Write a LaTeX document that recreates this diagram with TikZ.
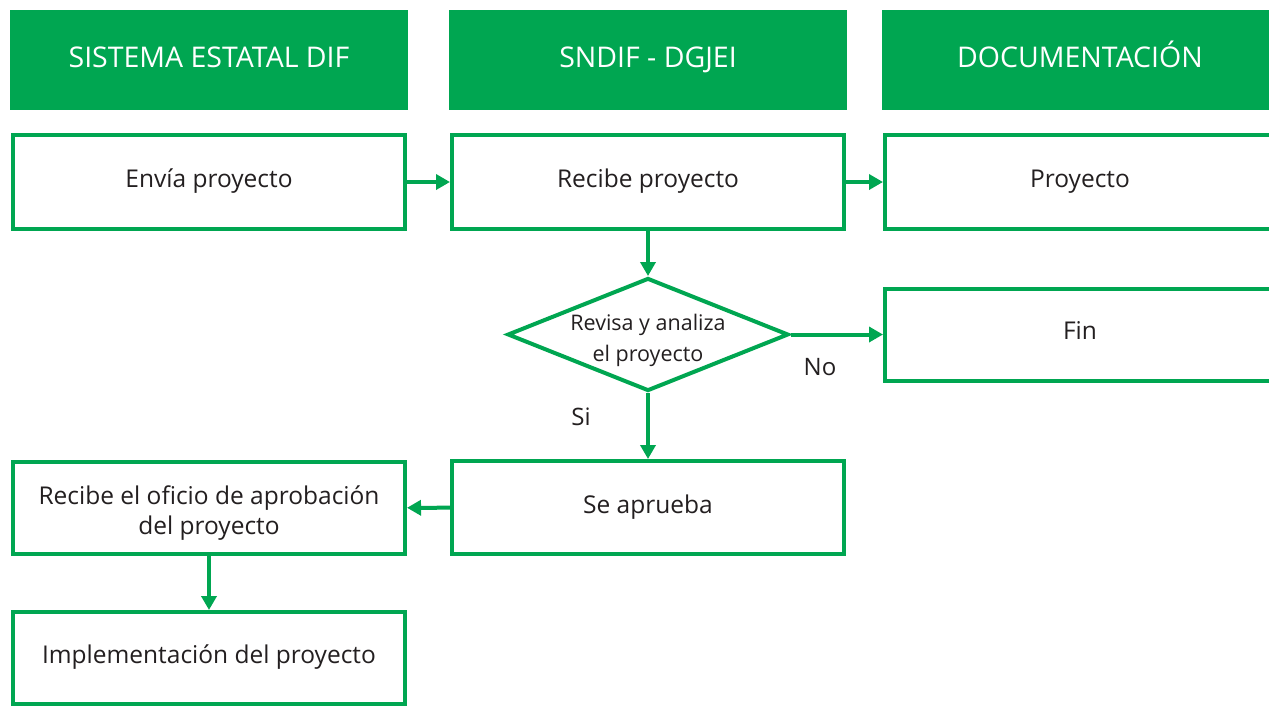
\documentclass[tikz,border=0pt]{standalone}
\usepackage{fontspec}
\setmainfont{Open Sans}
\usetikzlibrary{shapes.geometric,arrows.meta}
\definecolor{dgreen}{HTML}{00A651}
\definecolor{dtext}{HTML}{231F20}
\tikzset{
  header/.style={fill=dgreen, draw=none, text=white, minimum width=398pt, minimum height=100pt, inner sep=0pt, text height=20pt, text depth=6pt, font=\fontsize{28.5}{32}\selectfont},
  stepbox/.style={draw=dgreen, line width=4pt, fill=white, text=dtext, minimum width=392pt, minimum height=94pt, inner sep=0pt, align=center, font=\fontsize{24.5}{30}\selectfont},
  decision/.style={diamond, draw=dgreen, line width=4pt, fill=white, minimum width=281pt, minimum height=113pt, inner sep=0pt},
  dtxt/.style={text=dtext, inner sep=0pt, align=center, font=\fontsize{21.5}{31}\selectfont},
  lbl/.style={text=dtext, inner sep=0pt, font=\fontsize{24}{28}\selectfont},
  flow/.style={draw=dgreen, line width=4pt, -{Triangle[length=14pt,width=15pt]}},
}
\newcommand{\up}[1]{\raisebox{7pt}{#1}}
\begin{document}
\begin{tikzpicture}[x=1pt,y=-1pt]
\useasboundingbox (0,0) rectangle (1269,705);
\clip (0,0) rectangle (1269,705);
\fill[white] (0,0) rectangle (1269,705);
\node[header] (h1) at (209,60) {SISTEMA ESTATAL DIF};
\node[header] (h2) at (648,60) {SNDIF - DGJEI};
\node[header, minimum width=396pt] (h3) at (1080,60) {DOCUMENTACIÓN};
\node[stepbox] (envia) at (209,182) {\up{Envía proyecto}};
\node[stepbox] (recibe) at (648,182) {\up{Recibe proyecto}};
\node[stepbox, minimum width=390pt] (proy) at (1080,182) {\up{Proyecto}};
\node[decision] (rev) at (648,334.5) {};
\node[dtxt] (revt) at (648,340) {Revisa y analiza\\el proyecto};
\node[stepbox, minimum width=390pt, minimum height=92pt] (fin) at (1080,334.5) {\up{Fin}};
\node[stepbox, minimum height=93pt] (aprueba) at (648,507.5) {\up{Se aprueba}};
\node[stepbox, minimum height=92pt] (oficio) at (209,508) {\raisebox{-5pt}[\height][\depth]{\begin{tabular}{@{}c@{}}Recibe el oficio de aprobación\\[0pt]del proyecto\end{tabular}}};
\node[stepbox, minimum height=92pt] (impl) at (209,658) {\up{Implementación del proyecto}};
\node[lbl] (no) at (820,367) {No};
\node[lbl] (si) at (581,417) {Si};
\draw[flow] (envia) -- (recibe);
\draw[flow] (recibe) -- (proy);
\draw[flow] (recibe) -- (rev);
\draw[flow] (rev.east) -- (fin.west |- rev.east);
\draw[flow] (rev) -- (aprueba);
\draw[flow] (aprueba) -- (oficio);
\draw[flow] (oficio) -- (impl);
\end{tikzpicture}
\end{document}
